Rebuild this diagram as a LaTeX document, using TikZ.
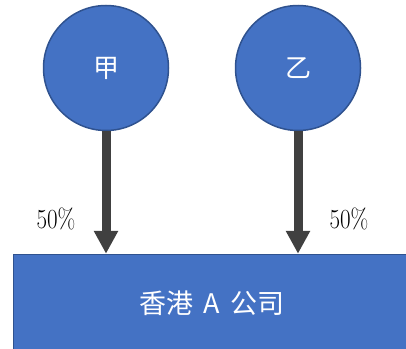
\documentclass[tikz,border=0pt]{standalone}
\usepackage{fontspec}
\newfontfamily\cjk{Noto Sans CJK SC}
\usetikzlibrary{arrows.meta,positioning}

\definecolor{boxblue}{HTML}{4472C4}
\definecolor{edgeblue}{HTML}{2F528F}
\definecolor{arrowgray}{HTML}{404040}

\tikzset{
    owner/.style={circle, fill=boxblue, draw=edgeblue, line width=1.5pt, minimum size=125pt, inner sep=0pt, text=white, font=\cjk\fontsize{26}{30}\selectfont},
    firm/.style={rectangle, fill=boxblue, draw=edgeblue, line width=1.5pt, minimum width=397pt, minimum height=97pt, inner sep=0pt, text=white, font=\cjk\fontsize{27}{32}\selectfont},
    share/.style={line width=9pt, draw=arrowgray, -{Triangle[width=23pt,length=23pt]}},
    pct/.style={font=\fontsize{23}{27}\selectfont}
}

\begin{document}
\begin{tikzpicture}[x=1pt,y=-1pt]
    \useasboundingbox (0,0) rectangle (406,348);

    % draw owners
    \node[owner] (jia) at (106,68) {甲};
    \node[owner] (yi) at (298,68) {乙};

    % draw company
    \node[firm] (company) at (212,303) {香港\hspace{4pt} A\hspace{4pt} 公司};

    % draw arrows
    \draw[share] (jia.south) -- (jia.south |- company.north);
    \draw[share] (yi.south) -- (yi.south |- company.north);

    % draw labels
    \node[pct] (pctjia) at (56,219) {\scalebox{1}[1.2]{50\%}};
    \node[pct] (pctyi) at (349,219) {\scalebox{1}[1.2]{50\%}};
\end{tikzpicture}
\end{document}
